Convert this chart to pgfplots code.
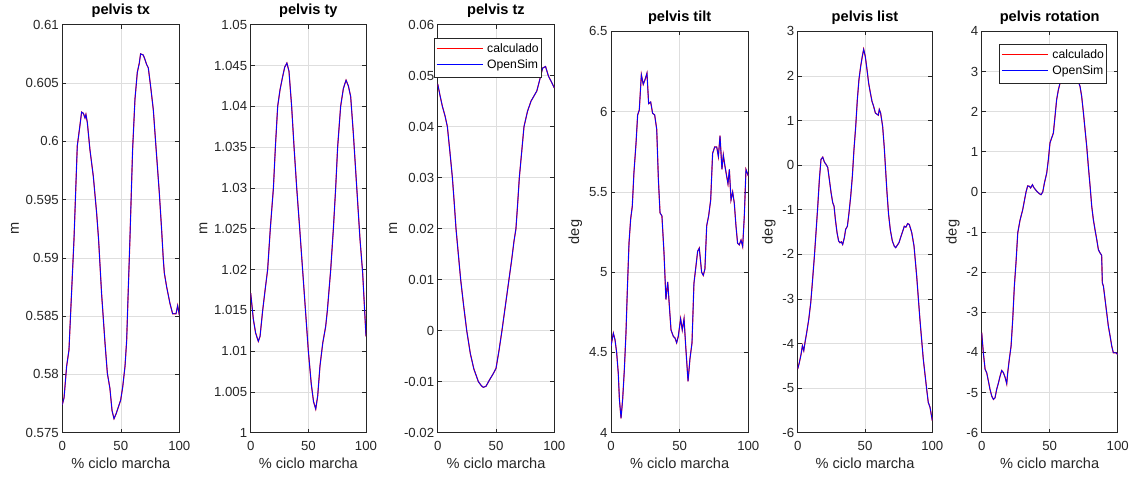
\documentclass[border=0pt]{standalone}
\usepackage{fontspec}
\setmainfont{Liberation Sans}
\usepackage{pgfplots}
\usepackage{pgfplotstable}
\pgfplotsset{compat=1.18}
\definecolor{axgray}{gray}{0.15}
\definecolor{gridgray}{gray}{0.87}
\definecolor{mred}{rgb}{1,0,0}
\definecolor{mblue}{rgb}{0,0,1}

\pgfplotstableread{
x y
0 0.5774
1.5 0.5780
3.7 0.5807
5.7 0.5821
8 0.5872
10 0.5916
12.8 0.5996
15 0.6013
16.5 0.6025
18 0.6024
19.4 0.6020
20.2 0.6023
21.4 0.6016
23.6 0.5993
26.5 0.5970
29.3 0.5939
31 0.5916
33.6 0.5869
36.5 0.5827
38.5 0.5801
40.7 0.5788
42.5 0.5769
44.2 0.5762
45.9 0.5766
47.9 0.5772
49.9 0.5778
51.6 0.5789
53.6 0.5807
55 0.5829
56.4 0.5873
57.8 0.5916
60.1 0.5993
62.1 0.6036
64.1 0.6059
65.8 0.6067
66.9 0.6075
69.2 0.6074
70.7 0.6070
72 0.6066
73.5 0.6063
75.5 0.6047
77.8 0.6027
80 0.5996
82.9 0.5956
84.9 0.5924
86.3 0.5899
87.2 0.5887
89.2 0.5875
92 0.5861
94.3 0.5852
97.2 0.5852
98.6 0.5859
100 0.5851
}\datatx

\pgfplotstableread{
x y
0 1.0171
2.3 1.0139
4.3 1.0122
6.6 1.0112
8.1 1.0118
10.4 1.0150
12.5 1.0175
14.7 1.0200
17 1.0250
19.7 1.0300
21.4 1.0350
23.4 1.0400
25.4 1.0420
27.5 1.0435
29.5 1.0448
31.4 1.0453
33.2 1.0443
35.5 1.0400
37.6 1.0350
39.9 1.0300
42.5 1.0250
45 1.0200
47.5 1.0150
50 1.0100
52.5 1.0060
54.5 1.0038
56.4 1.0029
58.1 1.0045
60.1 1.0082
62.5 1.0110
65 1.0130
66.5 1.0150
69.4 1.0200
71.7 1.0250
73.7 1.0300
75.4 1.0350
78 1.0400
80.4 1.0422
82.7 1.0432
84.7 1.0425
86.7 1.0412
89 1.0367
91.9 1.0302
94.8 1.0237
97.1 1.0196
100 1.0118
}\datatyy

\pgfplotstableread{
x y
0 0.0484
2 0.0461
4 0.0440
6.3 0.0421
8.3 0.0400
10.5 0.0350
12.6 0.0300
14.2 0.0250
15.7 0.0200
17.7 0.0150
19.7 0.0100
22.2 0.0050
24.9 0.0000
28 -0.0045
31 -0.0075
34.9 -0.0100
37.5 -0.0108
39.1 -0.0111
41.4 -0.0109
44.3 -0.0097
47.7 -0.0084
50 -0.0074
52.5 -0.0040
55.1 0.0000
58.1 0.0050
61.1 0.0100
63.5 0.0140
65.4 0.0175
67.1 0.0200
68.6 0.0250
70 0.0300
72 0.0350
74 0.0400
77 0.0430
80 0.0450
83 0.0462
85 0.0470
87.5 0.0492
90 0.0515
92.5 0.0518
95 0.0499
97.5 0.0488
100 0.0476
}\datatz

\pgfplotstableread{
x y
0 4.54
1.7 4.62
2.9 4.58
4.1 4.50
5.3 4.37
6.1 4.21
7.3 4.09
8.5 4.21
9.7 4.39
10.9 4.62
11.9 4.89
13.1 5.18
14.3 5.33
15.5 5.41
16.7 5.62
18.2 5.80
19.4 5.98
20.6 6.01
22.1 6.23
23.5 6.17
24.8 6.20
26.2 6.24
27.4 6.05
28.9 6.06
30.3 5.99
31.8 5.98
33.3 5.89
34.5 5.58
35.7 5.37
37.1 5.35
38.6 5.12
40.0 4.83
41.3 4.94
42.5 4.79
43.7 4.64
45.4 4.60
46.6 4.59
47.8 4.56
49.0 4.60
50.7 4.71
51.9 4.64
53.2 4.71
54.4 4.54
56.1 4.32
57.5 4.46
59.0 4.56
60.4 4.93
61.9 5.04
63.1 5.13
64.3 5.15
66.0 5.00
67.2 4.98
68.4 5.02
69.7 5.29
71.1 5.35
72.6 5.45
74.0 5.74
75.5 5.78
77.0 5.78
78.2 5.72
79.4 5.85
80.8 5.64
81.8 5.73
83.0 5.66
84.2 5.60
85.2 5.55
86.2 5.64
87.4 5.45
88.6 5.50
89.8 5.43
91.0 5.29
92.2 5.18
93.4 5.17
94.7 5.20
95.9 5.16
97.1 5.35
98.3 5.64
100 5.60
}\datatilt

\pgfplotstableread{
x y
0 -4.57
1.2 -4.43
2.5 -4.24
3.5 -4.05
4.5 -4.16
5.4 -3.98
6.7 -3.75
8.2 -3.46
9.7 -3.08
10.9 -2.63
12.4 -2.04
13.6 -1.51
14.9 -0.92
16.1 -0.32
17.3 0.13
18.6 0.18
19.8 0.07
21 0.02
22.3 -0.05
23.5 -0.32
24.8 -0.62
26 -0.84
27 -0.92
28 -1.22
29.2 -1.51
30.4 -1.70
31.4 -1.74
32.4 -1.72
33.4 -1.78
34.7 -1.62
35.6 -1.44
36.9 -1.37
38.1 -1.07
39.4 -0.69
40.6 -0.25
41.8 0.35
43.1 0.87
44.3 1.47
45.5 1.92
46.8 2.22
48 2.44
49 2.60
50.2 2.44
51.5 2.14
52.7 1.84
54 1.62
55.2 1.43
56.4 1.32
57.7 1.17
59.9 1.12
60.6 1.25
61.6 1.17
63.1 0.87
64.3 0.40
65.3 -0.10
66.3 -0.60
67.5 -1.10
68.8 -1.45
70.3 -1.70
71.8 -1.82
72.8 -1.85
75.2 -1.74
77.7 -1.51
79.2 -1.37
80.4 -1.39
81.7 -1.31
82.9 -1.33
84.7 -1.51
86.4 -1.81
88.4 -2.49
90.8 -3.46
93.3 -4.35
95.8 -5.02
97 -5.32
98.3 -5.43
100 -5.73
}\datalist

\pgfplotstableread{
x y
0 -3.51
1.2 -4.01
2.5 -4.42
3.7 -4.51
4.9 -4.71
6.1 -4.92
7.4 -5.09
8.6 -5.17
9.8 -5.13
11 -4.92
12.3 -4.76
13.5 -4.59
14.7 -4.45
15.9 -4.50
17.2 -4.62
18.4 -4.78
19.1 -4.51
20.3 -4.17
21.6 -3.84
22.8 -3.18
24 -2.35
25.2 -1.77
26.5 -1.02
28.2 -0.70
30.1 -0.45
32.6 0.00
33.8 0.15
35 0.14
36 0.10
37.3 0.18
38.5 0.10
40.4 0.02
42.2 -0.04
43.6 -0.07
44.9 0.00
46.1 0.22
47.8 0.47
49 0.80
50.2 1.22
51.5 1.35
52.7 1.47
53.9 1.88
55.1 2.30
56.4 2.55
57.6 2.71
60 3.00
63 3.30
66 3.45
68 3.40
70 3.05
71.1 2.75
72.3 2.63
73.5 2.38
74.8 1.97
76 1.55
77.2 1.14
78.4 0.64
79.7 0.14
80.9 -0.36
82.1 -0.69
83.3 -0.94
84.6 -1.19
85.8 -1.44
87 -1.52
88.2 -1.58
88.7 -2.27
89.5 -2.35
90.7 -2.68
91.9 -3.01
93.1 -3.34
94.4 -3.59
95.6 -3.84
96.8 -4.01
98.8 -4.01
100 -4.05
}\datarot

\newcommand{\legline}[1]{{\color{#1}\rule[3.5pt]{46pt}{1pt}}\hspace{4.5pt}}

\pgfplotsset{
  matlab/.style={
    scale only axis,
    anchor=south west,
    xmin=0, xmax=100,
    xtick={0,50,100},
    xticklabels={0,50,100},
    scaled y ticks=false,
    tick align=inside,
    tick pos=both,
    major tick length=4pt,
    grid=major,
    major grid style={gridgray, line width=0.6pt},
    axis line style={axgray, line width=0.6pt},
    every tick/.style={axgray, line width=0.6pt},
    tick label style={font=\fontsize{13.2}{15}\selectfont, text=axgray},
    xticklabel style={yshift=-5pt},
    label style={font=\fontsize{14.6}{16}\selectfont, text=axgray},
    title style={font=\fontsize{14.6}{16}\selectfont\bfseries, text=black, yshift=-2.5pt},
    xlabel={\% ciclo marcha},
    legend cell align=left,
    legend image code/.code={},
    legend style={fill=white, draw=axgray,
      font=\fontsize{12.2}{13}\selectfont,
      inner xsep=1pt, inner ysep=4pt,
      nodes={inner sep=1.5pt, text height=8.7pt, text depth=2.5pt},
      row sep=2.5pt, column sep=0pt},
  },
}

\begin{document}
\begin{tikzpicture}
\path[use as bounding box] (0pt,0pt) rectangle (1138pt,477pt);

\begin{axis}[matlab, at={(62.3pt,44.3pt)}, width=117pt, height=408pt,
  title={pelvis tx}, ylabel={m},
  ymin=0.575, ymax=0.61,
  ytick={0.575,0.58,0.585,0.59,0.595,0.6,0.605,0.61},
  yticklabels={0.575,0.58,0.585,0.59,0.595,0.6,0.605,0.61}]
\addplot[mred, line width=1.1pt] table {\datatx};
\addplot[mblue, line width=0.8pt] table {\datatx};
\end{axis}

\begin{axis}[matlab, at={(250.7pt,44.3pt)}, width=115.3pt, height=408pt,
  title={pelvis ty}, ylabel={m},
  ymin=1, ymax=1.05,
  ytick={1,1.005,1.01,1.015,1.02,1.025,1.03,1.035,1.04,1.045,1.05},
  yticklabels={1,1.005,1.01,1.015,1.02,1.025,1.03,1.035,1.04,1.045,1.05}]
\addplot[mred, line width=1.1pt] table {\datatyy};
\addplot[mblue, line width=0.8pt] table {\datatyy};
\end{axis}

\begin{axis}[matlab, at={(437.7pt,44.3pt)}, width=116.6pt, height=408pt,
  title={pelvis tz}, ylabel={m},
  ymin=-0.02, ymax=0.06,
  ytick={-0.02,-0.01,0,0.01,0.02,0.03,0.04,0.05,0.06},
  yticklabels={-0.02,-0.01,0,0.01,0.02,0.03,0.04,0.05,0.06},
  legend style={at={(-0.032,0.968)}, anchor=north west}]
\addplot[mred, line width=1.1pt] table {\datatz};
\addplot[mblue, line width=0.8pt] table {\datatz};
\legend{{\legline{mred}calculado\hspace{3pt}}, {\legline{mblue}OpenSim}}
\end{axis}

\begin{axis}[matlab, at={(611pt,44.3pt)}, width=137.3pt, height=401.3pt,
  title={pelvis tilt}, ylabel={deg},
  ymin=4, ymax=6.5,
  ytick={4,4.5,5,5.5,6,6.5},
  yticklabels={4,4.5,5,5.5,6,6.5}]
\addplot[mred, line width=1.1pt] table {\datatilt};
\addplot[mblue, line width=0.8pt] table {\datatilt};
\end{axis}

\begin{axis}[matlab, at={(797.7pt,44.3pt)}, width=134.6pt, height=401.3pt,
  title={pelvis list}, ylabel={deg},
  ymin=-6, ymax=3,
  ytick={-6,-5,-4,-3,-2,-1,0,1,2,3},
  yticklabels={-6,-5,-4,-3,-2,-1,0,1,2,3}]
\addplot[mred, line width=1.1pt] table {\datalist};
\addplot[mblue, line width=0.8pt] table {\datalist};
\end{axis}

\begin{axis}[matlab, at={(981.7pt,44.3pt)}, width=136pt, height=401.3pt,
  title={pelvis rotation}, ylabel={deg},
  ymin=-6, ymax=4,
  ytick={-6,-5,-4,-3,-2,-1,0,1,2,3,4},
  yticklabels={-6,-5,-4,-3,-2,-1,0,1,2,3,4},
  legend style={at={(0.129,0.969)}, anchor=north west}]
\addplot[mred, line width=1.1pt] table {\datarot};
\addplot[mblue, line width=0.8pt] table {\datarot};
\legend{{\legline{mred}calculado\hspace{3pt}}, {\legline{mblue}OpenSim}}
\end{axis}
\end{tikzpicture}
\end{document}
